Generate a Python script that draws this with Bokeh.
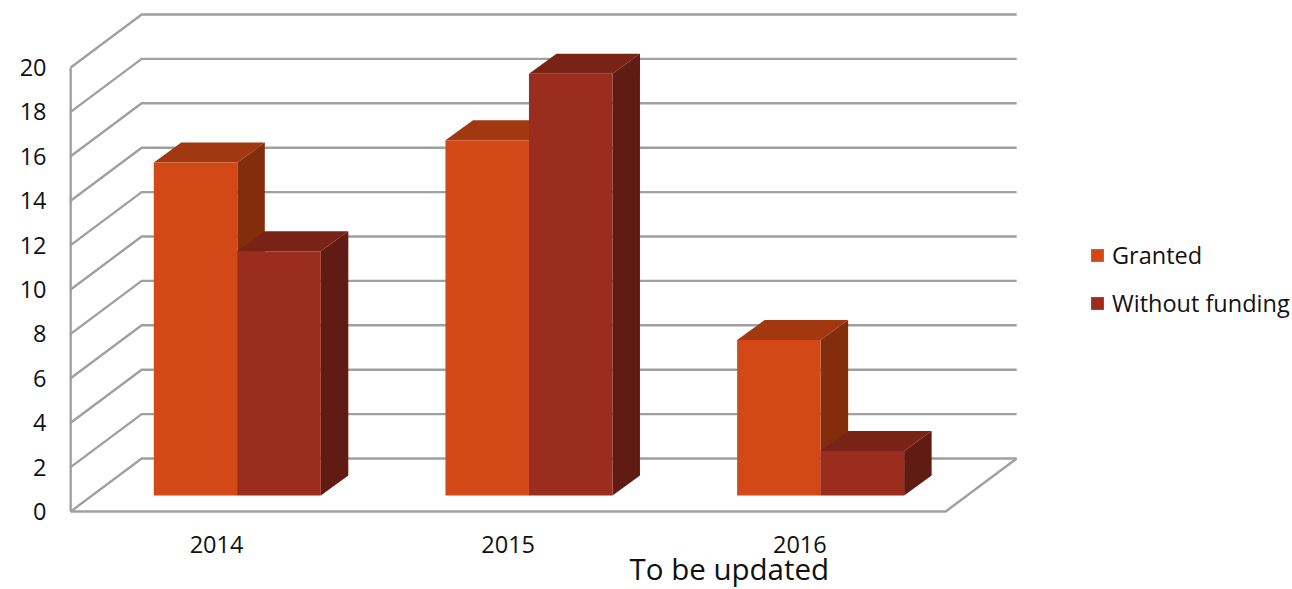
from bokeh.plotting import figure
from bokeh.models import ColumnDataSource, FixedTicker, Label, Legend, LegendItem
from bokeh.embed import file_html
from bokeh.resources import INLINE

years = ["2014", "2015", "2016"]
granted = [15, 16, 7]
without_funding = [11, 19, 2]
y_ticks = [0, 2, 4, 6, 8, 10, 12, 14, 16, 18, 20]
series_names = ["Granted", "Without funding"]
note = "To be updated"

GRID = "#a0a0a0"
U = 291.67   # px per category
V = 22.2     # px per value unit
ox = 71 / U; oy = 53 / V     # wall depth
bx = 27.5 / U; by = 20 / V   # bar depth
base = 16 / V                # bar baseline
left = -62.7 / U             # bar group start
bw = 83.5 / U

p = figure(width=1292, height=589, output_backend="svg", toolbar_location=None,
           x_range=((68 - 216) / U, (1292 - 216) / U),
           y_range=((511 - 589) / V, (511 - 8) / V),
           min_border_left=68, min_border_right=0, min_border_top=8,
           min_border_bottom=0, outline_line_color=None,
           background_fill_color="white", border_fill_color="white")
p.grid.visible = False
p.frame_width = 1224
p.frame_height = 581

# y axis
p.yaxis.ticker = FixedTicker(ticks=y_ticks)
p.yaxis.axis_line_color = None
p.yaxis.major_tick_line_color = None
p.yaxis.major_tick_out = 0
p.yaxis.major_tick_in = 0
p.yaxis.minor_tick_line_color = None
p.yaxis.major_label_standoff = 22
p.yaxis.major_label_text_font = "Open Sans"
p.yaxis.major_label_text_font_size = "23.5px"
p.yaxis.major_label_text_color = "#111111"

# x axis
p.xaxis.fixed_location = (511 - 513) / V
p.xaxis.ticker = FixedTicker(ticks=[0, 1, 2])
p.xaxis.major_label_overrides = {i: y for i, y in enumerate(years)}
p.xaxis.axis_line_color = None
p.xaxis.major_tick_line_color = None
p.xaxis.major_tick_out = 0
p.xaxis.major_tick_in = 0
p.xaxis.minor_tick_line_color = None
p.xaxis.major_label_standoff = 22
p.xaxis.major_label_text_font = "Open Sans"
p.xaxis.major_label_text_font_size = "23.5px"
p.xaxis.major_label_text_color = "#111111"

# walls
xs_wall, ys_wall = [], []
for t in y_ticks:
    xs_wall.append([-0.5, -0.5 + ox, 2.5 + ox])
    ys_wall.append([t, t + oy, t + oy])
p.multi_line(xs_wall, ys_wall, line_color=GRID, line_width=2.4)
p.line([-0.5, 2.5, 2.5 + ox], [0, 0, oy], line_color=GRID, line_width=2.4)
p.line([-0.5, -0.5], [0, y_ticks[-1]], line_color=GRID, line_width=2.4)


def bars(values, shift, front, top, side):
    for i, val in enumerate(values):
        x0 = i + left + shift
        x1 = x0 + bw
        y0 = base
        y1 = base + val
        p.patch([x1, x1 + bx, x1 + bx, x1], [y0, y0 + by, y1 + by, y1], color=side, line_width=0)
        p.patch([x0, x1, x1 + bx, x0 + bx], [y1, y1, y1 + by, y1 + by], color=top, line_width=0)
    src = ColumnDataSource(dict(
        left=[i + left + shift for i in range(len(values))],
        right=[i + left + shift + bw for i in range(len(values))],
        bottom=[base] * len(values),
        top=[base + v for v in values]))
    return p.quad(left="left", right="right", bottom="bottom", top="top", source=src,
                  fill_color=front, line_color=None)


r1 = bars(granted, 0, "#d34817", "#a1380f", "#842d0c")
r2 = bars(without_funding, bw, "#9b2d1f", "#792317", "#601b12")

legend = Legend(items=[LegendItem(label=series_names[0], renderers=[r1]),
                       LegendItem(label=series_names[1], renderers=[r2])],
                location=(1021, 270), background_fill_alpha=0, border_line_color=None,
                label_text_font="Open Sans", label_text_font_size="23.5px",
                label_text_color="#111111", glyph_width=16, glyph_height=16,
                label_standoff=7, spacing=16, padding=0, margin=0)
p.add_layout(legend, "center")

p.add_layout(Label(x=(629 - 216) / U, y=(511 - 588.5) / V, text=note,
                   text_font="Open Sans", text_font_size="29.5px", text_color="#111111"))

open("out.html", "w").write(file_html(p, INLINE))
